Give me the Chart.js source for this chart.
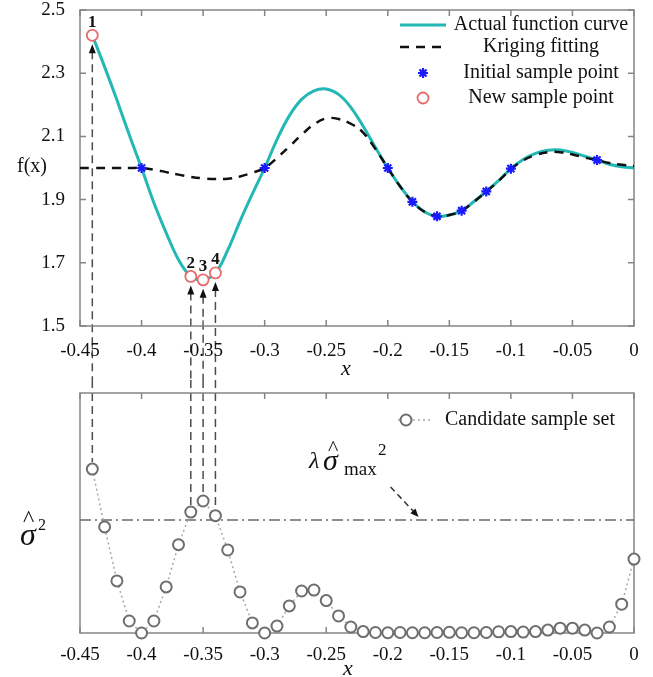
<!DOCTYPE html>
<html>
<head>
<meta charset="utf-8">
<script src="https://cdn.jsdelivr.net/npm/chart.js@4.4.1/dist/chart.umd.min.js"></script>
<style>
  html, body { margin: 0; padding: 0; background: #fff; }
  #wrap { position: relative; width: 653px; height: 677px; }
  canvas { position: absolute; left: 0; }
  #topChart { top: 0; }
  #bottomChart { top: 380px; }
</style>
</head>
<body>
<div id="wrap">
  <canvas id="topChart" width="653" height="380"></canvas>
  <canvas id="bottomChart" width="653" height="297"></canvas>
</div>
<script>
// x positions of the sampled curves (upper panel)
const curveX = [-0.45, -0.44, -0.43, -0.42, -0.41, -0.40, -0.39, -0.38, -0.37, -0.36,
                -0.35, -0.34, -0.33, -0.32, -0.31, -0.30, -0.29, -0.28, -0.27, -0.26,
                -0.25, -0.24, -0.23, -0.22, -0.21, -0.20, -0.19, -0.18, -0.17, -0.16,
                -0.15, -0.14, -0.13, -0.12, -0.11, -0.10, -0.09, -0.08, -0.07, -0.06,
                -0.05, -0.04, -0.03, -0.02, -0.01, 0];
const actualY = [null, 2.42, 2.32, 2.215, 2.105, 2.0, 1.89, 1.795, 1.71, 1.657,
                 1.646, 1.668, 1.74, 1.832, 1.918, 2.0, 2.09, 2.165, 2.217, 2.244,
                 2.25, 2.233, 2.192, 2.132, 2.065, 2.0, 1.942, 1.893, 1.861, 1.847,
                 1.851, 1.865, 1.894, 1.926, 1.96, 1.998, 2.027, 2.046, 2.056, 2.057,
                 2.049, 2.037, 2.025, 2.012, 2.004, 2.0];
const krigingY = [2.0, 2.0, 2.0, 2.0, 2.0, 2.0, 1.995, 1.987, 1.979, 1.972,
                  1.967, 1.965, 1.966, 1.973, 1.985, 2.0, 2.032, 2.068, 2.105, 2.138,
                  2.157, 2.155, 2.14, 2.112, 2.06, 2.0, 1.942, 1.893, 1.861, 1.847,
                  1.851, 1.865, 1.893, 1.925, 1.959, 1.996, 2.024, 2.041, 2.05, 2.05,
                  2.043, 2.033, 2.025, 2.016, 2.01, 2.006];

const initialX = [-0.4, -0.3, -0.2, -0.18, -0.16, -0.14, -0.12, -0.1, -0.03];
const initialY = [2.0, 2.0, 2.0, 1.893, 1.847, 1.865, 1.926, 1.998, 2.025];

const newX = [-0.44, -0.36, -0.35, -0.34];
const newY = [2.42, 1.657, 1.646, 1.668];
const newLabels = ['1', '2', '3', '4'];

// candidate set with its predicted variance (lower panel)
const candX = [-0.44, -0.43, -0.42, -0.41, -0.40, -0.39, -0.38, -0.37, -0.36, -0.35,
               -0.34, -0.33, -0.32, -0.31, -0.30, -0.29, -0.28, -0.27, -0.26, -0.25,
               -0.24, -0.23, -0.22, -0.21, -0.20, -0.19, -0.18, -0.17, -0.16, -0.15,
               -0.14, -0.13, -0.12, -0.11, -0.10, -0.09, -0.08, -0.07, -0.06, -0.05,
               -0.04, -0.03, -0.02, -0.01, 0];
const candY = [0.683, 0.442, 0.217, 0.05, 0.0, 0.05, 0.192, 0.368, 0.504, 0.55,
               0.489, 0.346, 0.171, 0.042, 0.0, 0.029, 0.113, 0.175, 0.179, 0.135,
               0.071, 0.025, 0.006, 0.002, 0.001, 0.002, 0.001, 0.001, 0.002, 0.003,
               0.001, 0.001, 0.002, 0.005, 0.006, 0.004, 0.006, 0.012, 0.02, 0.02,
               0.012, 0.0, 0.025, 0.12, 0.308];
const thresholdY = 0.471;

const xTicks = [-0.45, -0.4, -0.35, -0.3, -0.25, -0.2, -0.15, -0.1, -0.05, 0];
const fTicks = [1.5, 1.7, 1.9, 2.1, 2.3, 2.5];

const SERIF = "'Liberation Serif', 'Times New Roman', serif";
const TEAL = '#22b8b5';
const GUIDE = '#4d4d4d';
Chart.defaults.font.family = SERIF;
Chart.defaults.color = '#111';

const pts = (xs, ys) => xs.map((x, i) => ({ x: x, y: ys[i] }));

// box around the plot area with inward ticks on every side
const framePlugin = {
  id: 'frame',
  beforeDatasetsDraw(chart, args, opts) {
    const { ctx, chartArea: a, scales: { x, y } } = chart;
    ctx.save();
    ctx.strokeStyle = '#858585';
    ctx.lineWidth = 1.5;
    ctx.strokeRect(a.left, a.top, a.right - a.left, a.bottom - a.top);
    ctx.beginPath();
    x.ticks.forEach(t => {
      const px = x.getPixelForValue(t.value);
      ctx.moveTo(px, a.bottom); ctx.lineTo(px, a.bottom - 6);
      ctx.moveTo(px, a.top); ctx.lineTo(px, a.top + 6);
    });
    if (opts.yTicks) {
      y.ticks.forEach(t => {
        const py = y.getPixelForValue(t.value);
        ctx.moveTo(a.left, py); ctx.lineTo(a.left + 6, py);
        ctx.moveTo(a.right, py); ctx.lineTo(a.right - 6, py);
      });
    }
    ctx.stroke();
    ctx.restore();
  }
};

function drawStar(ctx, cx, cy, r) {
  ctx.beginPath();
  for (let k = 0; k < 4; k++) {
    const ang = k * Math.PI / 4;
    ctx.moveTo(cx - r * Math.cos(ang), cy - r * Math.sin(ang));
    ctx.lineTo(cx + r * Math.cos(ang), cy + r * Math.sin(ang));
  }
  ctx.stroke();
}

function xAxisOpts(height, pad) {
  return {
    type: 'linear', min: -0.45, max: 0,
    grid: { display: false }, border: { display: false },
    afterBuildTicks: s => { s.ticks = xTicks.map(v => ({ value: v })); },
    afterFit: s => { s.height = height; s.paddingLeft = 0; s.paddingRight = 0; },
    ticks: { padding: pad, font: { size: 19 }, color: '#111', maxRotation: 0, autoSkip: false,
             callback: v => String(v) }
  };
}

// ---------- upper panel: f(x) ----------
new Chart(document.getElementById('topChart'), {
  type: 'line',
  data: {
    datasets: [
      { label: 'Actual function curve', data: pts(curveX, actualY), borderColor: TEAL, borderWidth: 3,
        pointRadius: 0, tension: 0.4, order: 4 },
      { label: 'Kriging fitting', data: pts(curveX, krigingY), borderColor: '#111', borderWidth: 2.5,
        borderDash: [9, 7], pointRadius: 0, tension: 0.4, order: 3 },
      { label: 'Initial sample point', data: pts(initialX, initialY), showLine: false, pointStyle: 'star',
        pointRadius: 5, borderColor: '#1a1aff', backgroundColor: '#1a1aff', pointBorderWidth: 2.2, order: 2 },
      { label: 'New sample point', data: pts(newX, newY), showLine: false, pointStyle: 'circle',
        pointRadius: 5.5, borderColor: '#e86b6b', backgroundColor: '#fff', pointBorderWidth: 1.8, order: 1 }
    ]
  },
  options: {
    responsive: false,
    animation: false,
    layout: { padding: { top: 10, right: 19, left: 0, bottom: 0 } },
    plugins: { legend: { display: false }, tooltip: { enabled: false }, frame: { yTicks: true } },
    scales: {
      x: xAxisOpts(54, 6),
      y: {
        min: 1.5, max: 2.5,
        grid: { display: false }, border: { display: false },
        afterBuildTicks: s => { s.ticks = fTicks.map(v => ({ value: v })); },
        afterFit: s => { s.width = 80; s.paddingTop = 0; s.paddingBottom = 0; },
        ticks: { padding: 7, font: { size: 19 }, color: '#111', callback: v => v.toFixed(1) }
      }
    }
  },
  plugins: [framePlugin, {
    id: 'guides',
    beforeDraw(chart) {
      const { ctx, scales: { x, y } } = chart;
      ctx.save();
      ctx.strokeStyle = GUIDE;
      ctx.lineWidth = 1.5;
      ctx.setLineDash([8, 5]);
      newX.forEach((v, i) => {
        const px = x.getPixelForValue(v), py = y.getPixelForValue(newY[i]);
        ctx.beginPath();
        ctx.moveTo(px, py + 16);
        ctx.lineTo(px, chart.height);
        ctx.stroke();
      });
      ctx.restore();
    },
    afterDatasetsDraw(chart) {
      const { ctx, scales: { x, y } } = chart;
      ctx.save();
      ctx.fillStyle = '#111';
      ctx.font = 'bold 17px ' + SERIF;
      ctx.textAlign = 'center';
      ctx.textBaseline = 'middle';
      newX.forEach((v, i) => {
        const px = x.getPixelForValue(v), py = y.getPixelForValue(newY[i]);
        // arrowhead under the new point
        ctx.beginPath();
        ctx.moveTo(px, py + 9);
        ctx.lineTo(px - 3.5, py + 18);
        ctx.lineTo(px + 3.5, py + 18);
        ctx.closePath();
        ctx.fill();
        ctx.fillText(newLabels[i], px, py - 13);
      });
      ctx.restore();
    },
    afterDraw(chart) {
      const ctx = chart.ctx;
      ctx.save();
      ctx.fillStyle = '#111';
      ctx.textBaseline = 'middle';
      ctx.textAlign = 'center';
      ctx.font = '20px ' + SERIF;
      ctx.fillText('f(x)', 32, 167);
      ctx.font = 'italic 22px ' + SERIF;
      ctx.fillText('x', 346, 369);

      // legend, text centred in one column
      const rows = [25, 47, 73, 98];
      chart.data.datasets.forEach((ds, i) => {
        const ry = rows[i];
        ctx.strokeStyle = ds.borderColor;
        if (ds.showLine === false) {
          ctx.setLineDash([]);
          ctx.lineWidth = ds.pointBorderWidth;
          if (ds.pointStyle === 'star') {
            drawStar(ctx, 423, ry, 5);
          } else {
            ctx.fillStyle = ds.backgroundColor;
            ctx.beginPath();
            ctx.arc(423, ry, ds.pointRadius, 0, Math.PI * 2);
            ctx.fill();
            ctx.stroke();
          }
        } else {
          ctx.lineWidth = ds.borderWidth;
          ctx.setLineDash(ds.borderDash || []);
          ctx.beginPath();
          ctx.moveTo(400, ry);
          ctx.lineTo(446, ry);
          ctx.stroke();
        }
        ctx.setLineDash([]);
        ctx.fillStyle = '#111';
        ctx.font = '20px ' + SERIF;
        ctx.fillText(ds.label, 541, ry);
      });
      ctx.restore();
    }
  }]
});

// ---------- lower panel: predicted variance ----------
new Chart(document.getElementById('bottomChart'), {
  type: 'line',
  data: {
    datasets: [
      { label: 'Candidate sample set', data: pts(candX, candY), borderColor: '#a8a8a8', borderWidth: 1.5,
        borderDash: [2, 3], tension: 0, pointRadius: 5.5, pointBorderColor: '#6e6e6e',
        pointBackgroundColor: '#fff', pointBorderWidth: 2, clip: false, order: 1 },
      { label: 'threshold', data: [{ x: -0.45, y: thresholdY }, { x: 0, y: thresholdY }],
        borderColor: '#6a6a6a', borderWidth: 1.5, borderDash: [11, 4, 2, 4], pointRadius: 0, order: 2 }
    ]
  },
  options: {
    responsive: false,
    animation: false,
    layout: { padding: { top: 13, right: 19, left: 0, bottom: 0 } },
    plugins: { legend: { display: false }, tooltip: { enabled: false }, frame: { yTicks: false } },
    scales: {
      x: xAxisOpts(44, 3),
      y: {
        min: 0, max: 1,
        grid: { display: false }, border: { display: false },
        afterFit: s => { s.width = 80; s.paddingTop = 0; s.paddingBottom = 0; },
        ticks: { display: false }
      }
    }
  },
  plugins: [framePlugin, {
    id: 'guides',
    beforeDraw(chart) {
      const { ctx, scales: { x, y } } = chart;
      ctx.save();
      ctx.strokeStyle = GUIDE;
      ctx.lineWidth = 1.5;
      ctx.setLineDash([8, 5]);
      newX.forEach(v => {
        const k = candX.indexOf(v);
        const px = x.getPixelForValue(v), py = y.getPixelForValue(candY[k]);
        ctx.beginPath();
        ctx.moveTo(px, 0);
        ctx.lineTo(px, py - 7);
        ctx.stroke();
      });
      ctx.restore();
    },
    afterDraw(chart) {
      const { ctx, scales: { x, y } } = chart;
      ctx.save();
      ctx.fillStyle = '#111';
      ctx.textAlign = 'left';
      ctx.textBaseline = 'alphabetic';

      // sigma-hat squared axis label
      ctx.font = 'italic 32px ' + SERIF;
      ctx.fillText('σ', 20, 165);
      ctx.font = '24px ' + SERIF;
      ctx.fillText('^', 23, 146);
      ctx.font = '16px ' + SERIF;
      ctx.fillText('2', 38, 150);

      // lambda sigma-hat max squared annotation
      ctx.font = 'italic 24px ' + SERIF;
      ctx.fillText('λ', 309, 88);
      ctx.font = 'italic 30px ' + SERIF;
      ctx.fillText('σ', 323, 90);
      ctx.font = '22px ' + SERIF;
      ctx.fillText('^', 328, 75);
      ctx.font = '19px ' + SERIF;
      ctx.fillText('max', 344, 95);
      ctx.font = '17px ' + SERIF;
      ctx.fillText('2', 378, 75);

      // dashed arrow down to the threshold line
      const tipX = x.getPixelForValue(-0.175), tipY = y.getPixelForValue(thresholdY) - 3;
      ctx.strokeStyle = '#333';
      ctx.lineWidth = 1.5;
      ctx.setLineDash([6, 4]);
      ctx.beginPath();
      ctx.moveTo(tipX - 28, tipY - 30);
      ctx.lineTo(tipX - 5, tipY - 5.5);
      ctx.stroke();
      ctx.setLineDash([]);
      const ang = Math.atan2(30, 28);
      ctx.beginPath();
      ctx.moveTo(tipX, tipY);
      ctx.lineTo(tipX - 9 * Math.cos(ang - 0.4), tipY - 9 * Math.sin(ang - 0.4));
      ctx.lineTo(tipX - 9 * Math.cos(ang + 0.4), tipY - 9 * Math.sin(ang + 0.4));
      ctx.closePath();
      ctx.fill();

      // "x" axis title
      ctx.textAlign = 'center';
      ctx.textBaseline = 'middle';
      ctx.font = 'italic 22px ' + SERIF;
      ctx.fillText('x', 348, 289);

      // legend
      const ds = chart.data.datasets[0];
      ctx.strokeStyle = ds.borderColor;
      ctx.lineWidth = 1.5;
      ctx.setLineDash([2, 3]);
      ctx.beginPath();
      ctx.moveTo(398, 40);
      ctx.lineTo(432, 40);
      ctx.stroke();
      ctx.setLineDash([]);
      ctx.strokeStyle = ds.pointBorderColor;
      ctx.lineWidth = ds.pointBorderWidth;
      ctx.fillStyle = '#fff';
      ctx.beginPath();
      ctx.arc(406, 40, ds.pointRadius, 0, Math.PI * 2);
      ctx.fill();
      ctx.stroke();
      ctx.fillStyle = '#111';
      ctx.textAlign = 'left';
      ctx.font = '20px ' + SERIF;
      ctx.fillText(ds.label, 445, 40);
      ctx.restore();
    }
  }]
});
</script>
</body>
</html>
